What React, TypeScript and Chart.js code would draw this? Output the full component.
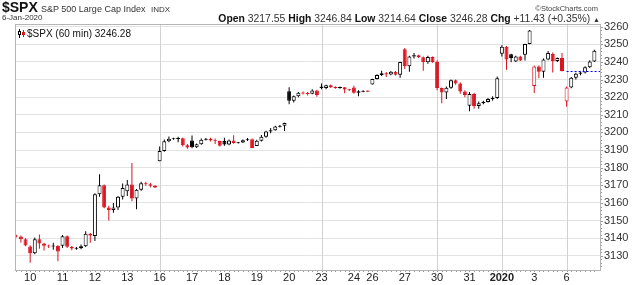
import React, { useEffect, useRef } from 'react';
import { Chart, registerables } from 'chart.js';
Chart.register(...registerables);

// ---- data (60-min candles, 9-Dec-2019 .. 6-Jan-2020) ----
const opens = [
  3141.5, 3141.0, 3139.5,
  3135.36, 3131.5, 3139.5, 3137.0, 3135.8, 3135.5, 3135.7,
  3135.75, 3141.2, 3135.2, 3134.3, 3134.4, 3135.5, 3142.5,
  3141.23, 3165.0, 3170.0, 3157.5, 3156.0, 3157.5, 3163.5,
  3166.65, 3170.5, 3162.5, 3167.5, 3171.2, 3170.6, 3169.8,
  3183.63, 3189.5, 3195.0, 3196.4, 3196.5, 3196.7, 3192.7,
  3195.4, 3191.6, 3193.3, 3195.8, 3196.4, 3195.5, 3195.1,
  3195.21, 3193.2, 3195.5, 3194.0, 3194.3, 3195.6, 3196.2,
  3192.32, 3195.3, 3197.6, 3200.5, 3201.3, 3203.4, 3203.8,
  3223.33, 3218.0, 3220.5, 3222.5, 3222.2, 3221.9, 3223.8,
  3226.05, 3225.2, 3226.8, 3225.6, 3225.4, 3225.6, 3224.4,
  3225.45, 3222.5, 3223.3, 3223.5,
  3227.2, 3230.3, 3232.6, 3233.6, 3232.8, 3234.4, 3232.7,
  3247.23, 3237.5, 3243.0, 3243.8, 3242.7, 3239.8, 3242.8,
  3240.09, 3225.2, 3222.6, 3225.3, 3229.6, 3227.8, 3223.2,
  3215.18, 3221.8, 3215.0, 3216.5, 3217.3, 3219.0, 3219.6,
  3244.67, 3248.6, 3244.3, 3240.3, 3243.1, 3244.1, 3250.1,
  3226.36, 3237.4, 3234.4, 3241.4, 3244.5, 3240.5, 3242.2,
  3217.55, 3225.5, 3231.0, 3233.3, 3234.0, 3237.0, 3240.3,
];
const highs = [
  3142.0, 3141.5, 3140.0,
  3136.0, 3140.5, 3142.12, 3137.5, 3136.5, 3137.5, 3136.0,
  3141.8, 3141.6, 3135.6, 3135.0, 3136.5, 3143.98, 3143.0,
  3165.5, 3176.28, 3170.5, 3158.5, 3160.0, 3164.0, 3171.0,
  3173.0, 3182.68, 3168.0, 3172.0, 3172.0, 3171.5, 3170.2,
  3192.0, 3196.0, 3197.71, 3197.0, 3197.5, 3197.0, 3193.5,
  3198.22, 3193.8, 3196.5, 3196.8, 3197.0, 3196.5, 3195.3,
  3197.0, 3196.0, 3198.48, 3194.6, 3196.0, 3196.8, 3196.5,
  3195.8, 3198.5, 3201.0, 3202.5, 3203.8, 3204.2, 3205.48,
  3225.65, 3221.0, 3223.0, 3223.2, 3223.0, 3224.5, 3224.2,
  3227.78, 3227.0, 3227.2, 3226.2, 3226.0, 3225.8, 3224.8,
  3226.43, 3224.0, 3224.0, 3223.8,
  3230.5, 3233.0, 3235.0, 3234.3, 3234.8, 3234.8, 3240.08,
  3247.93, 3243.5, 3245.0, 3244.0, 3243.0, 3243.5, 3243.0,
  3240.92, 3225.5, 3226.0, 3230.0, 3230.0, 3228.5, 3224.0,
  3223.0, 3222.5, 3217.5, 3218.0, 3219.5, 3220.5, 3231.72,
  3249.5, 3249.0, 3244.6, 3243.5, 3243.5, 3250.3, 3258.14,
  3238.0, 3238.0, 3242.0, 3246.15, 3245.3, 3242.5, 3245.0,
  3226.0, 3231.5, 3233.8, 3234.5, 3237.5, 3241.0, 3246.84,
];
const lows = [
  3140.5, 3137.5, 3135.5,
  3126.09, 3131.0, 3134.0, 3133.0, 3134.5, 3133.5, 3127.0,
  3134.5, 3134.5, 3133.21, 3133.5, 3133.8, 3135.0, 3137.5,
  3138.47, 3163.5, 3157.0, 3150.0, 3154.5, 3156.0, 3162.0,
  3164.0, 3161.0, 3156.51, 3167.0, 3169.8, 3168.8, 3168.5,
  3183.63, 3189.0, 3194.5, 3195.8, 3194.5, 3192.0, 3190.8,
  3191.03, 3191.2, 3193.0, 3195.5, 3194.8, 3193.5, 3192.0,
  3192.5, 3192.8, 3193.6, 3193.8, 3194.0, 3195.2, 3191.14,
  3192.32, 3194.8, 3197.0, 3199.5, 3201.0, 3202.8, 3200.8,
  3216.03, 3217.0, 3220.0, 3221.5, 3221.0, 3221.6, 3220.3,
  3224.5, 3224.5, 3225.2, 3224.8, 3224.8, 3222.3, 3223.5,
  3222.0, 3220.51, 3222.8, 3223.0,
  3227.2, 3230.0, 3232.0, 3231.5, 3232.5, 3232.3, 3231.0,
  3236.0, 3234.37, 3242.0, 3242.2, 3235.0, 3239.0, 3239.5,
  3224.0, 3216.57, 3219.0, 3224.8, 3227.0, 3222.0, 3220.0,
  3212.03, 3213.5, 3213.5, 3216.0, 3217.0, 3218.0, 3219.0,
  3243.0, 3235.53, 3239.8, 3240.0, 3240.5, 3240.8, 3250.0,
  3222.34, 3230.8, 3231.0, 3241.0, 3234.0, 3240.0, 3234.6,
  3214.64, 3225.0, 3230.0, 3232.5, 3233.5, 3236.5, 3240.0,
];
const closes = [
  3141.0, 3139.5, 3135.96,
  3131.5, 3139.5, 3137.0, 3135.8, 3135.5, 3135.7, 3132.52,
  3141.2, 3135.2, 3134.2, 3134.4, 3135.5, 3142.5, 3141.63,
  3165.0, 3170.0, 3157.5, 3156.0, 3157.5, 3163.5, 3168.57,
  3170.5, 3162.5, 3167.5, 3171.2, 3170.6, 3169.8, 3168.8,
  3189.5, 3195.0, 3196.4, 3196.5, 3196.7, 3192.7, 3191.45,
  3191.6, 3193.3, 3195.8, 3196.4, 3195.5, 3195.1, 3192.52,
  3193.2, 3195.5, 3194.0, 3194.3, 3195.6, 3196.2, 3191.14,
  3195.3, 3197.6, 3200.5, 3201.3, 3203.4, 3203.7, 3205.37,
  3218.0, 3220.5, 3222.5, 3222.2, 3221.9, 3223.8, 3221.22,
  3225.2, 3226.8, 3225.6, 3225.4, 3225.6, 3224.4, 3224.01,
  3222.5, 3223.3, 3223.5, 3223.38,
  3230.3, 3232.6, 3233.6, 3232.8, 3234.4, 3232.7, 3239.91,
  3237.5, 3243.0, 3243.8, 3242.7, 3239.8, 3242.8, 3240.02,
  3225.2, 3222.6, 3225.3, 3229.6, 3227.8, 3223.2, 3221.29,
  3221.8, 3215.0, 3216.5, 3217.3, 3219.0, 3219.6, 3230.78,
  3248.6, 3241.3, 3242.2, 3243.1, 3240.8, 3250.1, 3257.85,
  3237.4, 3234.4, 3241.4, 3245.0, 3240.5, 3242.2, 3234.85,
  3225.5, 3231.0, 3233.3, 3234.0, 3237.0, 3240.3, 3246.28,
];
const firstPrevClose = 3141.8;
const dayLabels = ['10', '11', '12', '13', '16', '17', '18', '19', '20', '23', '24', '26', '27', '30', '31', '2020', '3', '6'];
const dayStartIdx = [3, 10, 17, 24, 31, 38, 45, 52, 59, 66, 73, 77, 84, 91, 98, 105, 112, 119];
const weekStartIdx = [31, 66, 91, 105, 119];
const priorClose = 3234.85;
const priorCloseFromIdx = 119;
const legendText = '$SPX (60 min) 3246.28';

const RED = '#d9131f';
const BLACK = '#000000';
const FONT = 'Arial, "Liberation Sans", sans-serif';

export default function App() {
  const ref = useRef<HTMLCanvasElement | null>(null);

  useEffect(() => {
    const canvas = ref.current;
    if (!canvas) return;

    const colors = closes.map((c, i) => (c >= (i === 0 ? firstPrevClose : closes[i - 1]) ? BLACK : RED));
    const fills = closes.map((c, i) => (c > opens[i] ? '#ffffff' : colors[i]));
    const bodies = closes.map((c, i) => {
      const lo = Math.min(c, opens[i]);
      const hi = Math.max(c, opens[i]);
      if (hi - lo < 0.6) {
        const m = (hi + lo) / 2;
        return { x: i, y: [m - 0.3, m + 0.3] };
      }
      return { x: i, y: [lo, hi] };
    });
    const wicks = lows.map((l, i) => ({ x: i, y: [l, highs[i]] }));

    const decor = {
      id: 'decor',
      beforeDraw(chart: any) {
        const c = chart.ctx;
        c.save();
        c.fillStyle = '#ffffff';
        c.fillRect(0, 0, chart.width, chart.height);
        c.restore();
      },
      beforeDatasetsDraw(chart: any) {
        const c = chart.ctx;
        const a = chart.chartArea;
        const xs = chart.scales.x;
        c.save();
        c.strokeStyle = '#d2d2d2';
        c.lineWidth = 1;
        c.beginPath();
        for (const w of weekStartIdx) {
          const x = Math.round(xs.getPixelForValue(w)) + 0.5;
          c.moveTo(x, a.top);
          c.lineTo(x, a.bottom);
        }
        c.stroke();
        c.restore();
      },
      afterDraw(chart: any) {
        const c = chart.ctx;
        const a = chart.chartArea;
        const xs = chart.scales.x;
        const ys = chart.scales.y;
        c.save();
        // frame
        c.strokeStyle = '#b5b5b5';
        c.lineWidth = 1;
        c.strokeRect(Math.round(a.left) + 0.5, Math.round(a.top) + 0.5, Math.round(a.right - a.left), Math.round(a.bottom - a.top));
        // minor ticks
        c.strokeStyle = '#9a9a9a';
        c.beginPath();
        for (let i = 0; i < closes.length; i++) {
          const x = Math.round(xs.getPixelForValue(i)) + 0.5;
          c.moveTo(x, Math.round(a.bottom) + 1);
          c.lineTo(x, Math.round(a.bottom) + 2);
        }
        for (let v = 3124; v <= 3260; v += 2) {
          const y = Math.round(ys.getPixelForValue(v)) + 0.5;
          c.moveTo(Math.round(a.right) + 1, y);
          c.lineTo(Math.round(a.right) + (v % 10 === 0 ? 3 : 2), y);
        }
        c.stroke();
        // prior close dotted line
        const py = Math.round(ys.getPixelForValue(priorClose)) + 0.5;
        c.strokeStyle = '#0000ff';
        c.setLineDash([2, 2]);
        c.beginPath();
        c.moveTo(xs.getPixelForValue(priorCloseFromIdx), py);
        c.lineTo(a.right, py);
        c.stroke();
        c.setLineDash([]);
        // legend icon
        c.strokeStyle = BLACK;
        c.beginPath();
        c.moveTo(19.5, 29); c.lineTo(19.5, 38);
        c.stroke();
        c.fillStyle = '#fff';
        c.fillRect(18, 31, 3, 4);
        c.strokeRect(18.5, 31.5, 2, 3);
        c.strokeStyle = RED;
        c.beginPath();
        c.moveTo(23.5, 30); c.lineTo(23.5, 37);
        c.stroke();
        c.fillStyle = RED;
        c.fillRect(22, 32, 3, 3);
        // legend text
        c.fillStyle = '#111';
        c.font = '10px ' + FONT;
        c.textBaseline = 'alphabetic';
        c.fillText(legendText, 27, 37);
        c.restore();
      },
    };

    const chart = new Chart(canvas, {
      type: 'bar',
      data: {
        datasets: [
          {
            label: 'body',
            data: bodies as any,
            backgroundColor: fills,
            borderColor: colors,
            borderWidth: 1,
            borderSkipped: false,
            barThickness: 4,
            maxBarThickness: 4,
            barPercentage: 1,
            categoryPercentage: 1,
            grouped: false,
            inflateAmount: 0,
            order: 0,
          } as any,
          {
            label: 'wick',
            data: wicks as any,
            backgroundColor: colors,
            borderWidth: 0,
            barThickness: 1,
            maxBarThickness: 1,
            barPercentage: 1,
            categoryPercentage: 1,
            grouped: false,
            inflateAmount: 0,
            order: 1,
          } as any,
        ],
      },
      options: {
        responsive: false,
        animation: false,
        devicePixelRatio: 1,
        layout: { padding: { left: 15, top: 24, right: 0, bottom: 0 } },
        plugins: { legend: { display: false }, tooltip: { enabled: false } },
        scales: {
          x: {
            type: 'linear',
            min: -0.28,
            max: 126.22,
            offset: false,
            afterBuildTicks: (s: any) => {
              s.ticks = dayStartIdx.map((v) => ({ value: v }));
            },
            afterFit: (s: any) => {
              s.height = 15;
            },
            ticks: {
              autoSkip: false,
              maxRotation: 0,
              padding: 1,
              color: '#222',
              callback: (_v: any, idx: number) => dayLabels[idx],
              font: (ctx: any) => ({ size: 11, family: FONT, weight: dayLabels[ctx.index] === '2020' ? 'bold' : 'normal' }),
            },
            grid: { display: false, drawTicks: false },
            border: { display: false },
          },
          y: {
            position: 'right',
            min: 3122,
            max: 3261.5,
            afterFit: (s: any) => {
              s.width = 40;
            },
            ticks: {
              stepSize: 10,
              includeBounds: false,
              padding: 4,
              color: '#333',
              font: { size: 11, family: FONT },
              callback: (v: any) => String(Math.round(Number(v))),
            },
            grid: { drawTicks: false, color: '#e3e3e3', lineWidth: 1 },
            border: { display: false },
          },
        },
      } as any,
      plugins: [decor],
    });
    return () => chart.destroy();
  }, []);

  const abs = (o: any) => ({ position: 'absolute' as const, whiteSpace: 'nowrap' as const, lineHeight: 1, ...o });
  return (
    <div style={{ position: 'fixed', left: 0, top: 0, width: 640, height: 285, background: '#fff', fontFamily: FONT, overflow: 'hidden' }}>
      <canvas ref={ref} width={640} height={285} style={{ position: 'absolute', left: 0, top: 0, width: 640, height: 285 }} />
      <div style={abs({ left: 2, top: 0, fontSize: 14, fontWeight: 'bold', color: '#111' })}>$SPX</div>
      <div style={abs({ left: 41, top: 4.5, fontSize: 9, color: '#333' })}>{'S&P 500 Large Cap Index'}</div>
      <div style={abs({ left: 151, top: 5.5, fontSize: 8, color: '#333' })}>INDX</div>
      <div style={abs({ left: 2, top: 14, fontSize: 8, color: '#333' })}>6-Jan-2020</div>
      <div style={abs({ right: 42, top: 4.5, fontSize: 7.5, color: '#444' })}>{'\u00a9StockCharts.com'}</div>
      <div style={abs({ right: 40, top: 14, fontSize: 10.4, color: '#333' })}>
        <b style={{ color: '#111' }}>Open</b> 3217.55 <b style={{ color: '#111' }}>High</b> 3246.84 <b style={{ color: '#111' }}>Low</b> 3214.64{' '}
        <b style={{ color: '#111' }}>Close</b> 3246.28 <b style={{ color: '#111' }}>Chg</b> +11.43 (+0.35%) <span style={{ fontSize: 7 }}>{'\u25b2'}</span>
      </div>
    </div>
  );
}
